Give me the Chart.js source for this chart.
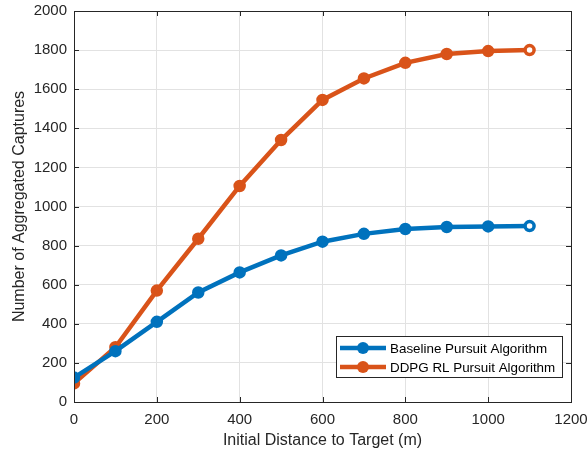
<!DOCTYPE html>
<html>
<head>
<meta charset="utf-8">
<script src="https://cdn.jsdelivr.net/npm/chart.js@4"></script>
<style>
  html, body { margin: 0; padding: 0; background: #fff; }
  #wrap { width: 587px; height: 454px; }
</style>
</head>
<body>
<div id="wrap"><canvas id="chart" width="587" height="454"></canvas></div>
<script>
const distances = [0, 100, 200, 300, 400, 500, 600, 700, 800, 900, 1000, 1100];
const baselineCaptures = [125, 260, 410, 560, 663, 750, 820, 860, 885, 895, 898, 900];
const ddpgCaptures = [95, 280, 570, 835, 1105, 1340, 1545, 1655, 1735, 1780, 1795, 1800];
const seriesNames = ['Baseline Pursuit Algorithm', 'DDPG RL Pursuit Algorithm'];
const seriesColors = ['#0072BD', '#D95319'];

const FONT = 'Liberation Sans, Arial, Helvetica, sans-serif';
const AXIS = '#262626';

function toPoints(ys) {
    return distances.map((x, i) => ({ x: x, y: ys[i] }));
}

// last marker drawn with a light centre, like the reference
function pointFill(color, n) {
    return Array.from({ length: n }, (_, i) => (i === n - 1 ? '#ffffff' : color));
}

// MATLAB style box with inward ticks + legend inside the lower right corner
const boxAndLegend = {
    id: 'boxAndLegend',
    afterDraw(chart) {
        const ctx = chart.ctx;
        const a = chart.chartArea;
        const xs = chart.scales.x, ys = chart.scales.y;
        ctx.save();
        ctx.strokeStyle = AXIS;
        ctx.lineWidth = 1;
        ctx.strokeRect(Math.round(a.left) + 0.5, Math.round(a.top) + 0.5,
            Math.round(a.right - a.left), Math.round(a.bottom - a.top));

        const tl = 5;
        ctx.beginPath();
        xs.ticks.forEach(t => {
            const px = Math.round(xs.getPixelForValue(t.value)) + 0.5;
            ctx.moveTo(px, a.bottom); ctx.lineTo(px, a.bottom - tl);
            ctx.moveTo(px, a.top); ctx.lineTo(px, a.top + tl);
        });
        ys.ticks.forEach(t => {
            const py = Math.round(ys.getPixelForValue(t.value)) + 0.5;
            ctx.moveTo(a.left, py); ctx.lineTo(a.left + tl, py);
            ctx.moveTo(a.right, py); ctx.lineTo(a.right - tl, py);
        });
        ctx.stroke();

        const lx = 336, ly = 336, lw = 226, lh = 41;
        ctx.fillStyle = '#ffffff';
        ctx.fillRect(lx, ly, lw, lh);
        ctx.strokeStyle = AXIS;
        ctx.lineWidth = 1;
        ctx.strokeRect(lx + 0.5, ly + 0.5, lw, lh);

        ctx.font = '13.4px ' + FONT;
        ctx.textBaseline = 'middle';
        seriesNames.forEach((name, i) => {
            const cy = ly + 12 + i * 19;
            ctx.strokeStyle = seriesColors[i];
            ctx.lineWidth = 4.5;
            ctx.beginPath();
            ctx.moveTo(lx + 4, cy);
            ctx.lineTo(lx + 50, cy);
            ctx.stroke();
            ctx.fillStyle = seriesColors[i];
            ctx.beginPath();
            ctx.arc(lx + 27, cy, 6, 0, Math.PI * 2);
            ctx.fill();
            ctx.fillStyle = '#000000';
            ctx.fillText(name, lx + 54, cy + 1);
        });
        ctx.restore();
    }
};

function makeDataset(i, values) {
    return {
        label: seriesNames[i],
        data: toPoints(values),
        borderColor: seriesColors[i],
        backgroundColor: seriesColors[i],
        pointBackgroundColor: pointFill(seriesColors[i], distances.length),
        pointBorderColor: seriesColors[i],
        borderWidth: 4.5,
        pointRadius: 4.5,
        pointBorderWidth: 3.5,
        tension: 0
    };
}

new Chart(document.getElementById('chart').getContext('2d'), {
    type: 'line',
    data: {
        datasets: [makeDataset(0, baselineCaptures), makeDataset(1, ddpgCaptures)]
    },
    options: {
        responsive: false,
        animation: false,
        layout: { padding: { top: 11, right: 16, left: 0, bottom: 0 } },
        plugins: {
            legend: { display: false },
            tooltip: { enabled: false }
        },
        scales: {
            x: {
                type: 'linear',
                min: 0,
                max: 1200,
                ticks: {
                    stepSize: 200, color: AXIS, font: { family: FONT, size: 15 }, padding: 9,
                    callback: v => String(v)
                },
                grid: { color: '#e2e2e2', tickLength: 0 },
                border: { color: AXIS },
                title: { display: true, text: 'Initial Distance to Target (m)', color: AXIS, font: { family: FONT, size: 16 }, padding: { top: 0 } },
                afterFit(scale) {
                    scale.height = 52;
                    scale.paddingLeft = 0;
                    scale.paddingRight = 0;
                }
            },
            y: {
                min: 0,
                max: 2000,
                ticks: {
                    stepSize: 200, color: AXIS, font: { family: FONT, size: 15 }, padding: 7,
                    callback: v => String(v)
                },
                grid: { color: '#e2e2e2', tickLength: 0 },
                border: { color: AXIS },
                title: { display: true, text: 'Number of Aggregated Captures', color: AXIS, font: { family: FONT, size: 16 }, padding: { top: 10, bottom: 0 } },
                afterFit(scale) {
                    scale.width = 74;
                    scale.paddingTop = 0;
                    scale.paddingBottom = 0;
                }
            }
        }
    },
    plugins: [boxAndLegend]
});
</script>
</body>
</html>
